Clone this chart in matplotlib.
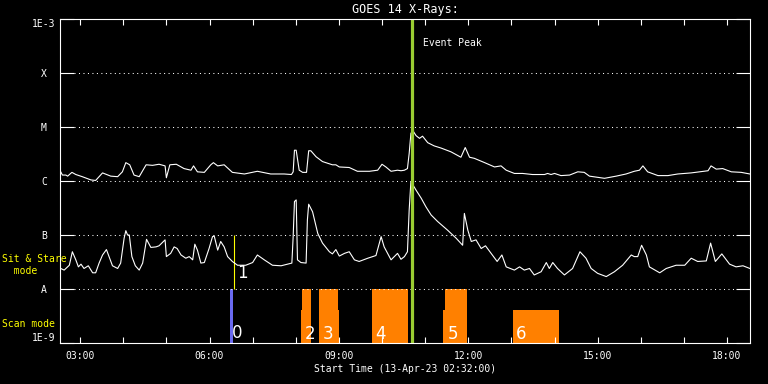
import numpy as np
import matplotlib
matplotlib.use('Agg')
import matplotlib.pyplot as plt

# GOES 14 X-ray fluxes, 13-Apr-23, time in decimal hours UT, flux as log10(W/m^2)
long_t = [2.53, 2.59, 2.67, 2.71, 2.81, 2.90, 3.05, 3.25, 3.36, 3.52, 3.71, 3.87, 3.98, 4.06,
          4.15, 4.25, 4.37, 4.53, 4.68, 4.83, 4.97, 5.00, 5.08, 5.23, 5.41, 5.57, 5.63, 5.72,
          5.88, 6.03, 6.09, 6.19, 6.34, 6.53, 6.81, 7.11, 7.42, 7.73, 7.90, 7.94, 7.97, 8.01,
          8.08, 8.16, 8.25, 8.30, 8.35, 8.47, 8.62, 8.85, 8.93, 9.01, 9.24, 9.43, 9.71, 9.90,
          10.00, 10.09, 10.21, 10.36, 10.44, 10.52, 10.59, 10.63, 10.67, 10.71, 10.79, 10.87,
          10.94, 11.06, 11.21, 11.37, 11.60, 11.83, 11.93, 12.03, 12.14, 12.38, 12.61, 12.76,
          12.88, 13.07, 13.26, 13.49, 13.77, 13.84, 13.92, 14.00, 14.15, 14.35, 14.54, 14.69,
          14.81, 15.16, 15.43, 15.66, 15.85, 15.97, 16.05, 16.16, 16.40, 16.63, 16.86, 17.17,
          17.56, 17.63, 17.75, 17.90, 18.10, 18.33, 18.53]
long_log = [-5.80, -5.89, -5.89, -5.91, -5.84, -5.88, -5.92, -5.98, -5.99, -5.85, -5.91, -5.92,
            -5.83, -5.66, -5.70, -5.89, -5.92, -5.70, -5.71, -5.69, -5.72, -5.94, -5.70, -5.69,
            -5.77, -5.80, -5.72, -5.83, -5.84, -5.70, -5.66, -5.72, -5.70, -5.84, -5.87, -5.82,
            -5.87, -5.87, -5.88, -5.83, -5.43, -5.43, -5.80, -5.84, -5.84, -5.44, -5.44, -5.55,
            -5.64, -5.70, -5.70, -5.74, -5.75, -5.82, -5.82, -5.80, -5.69, -5.74, -5.82, -5.80,
            -5.81, -5.80, -5.77, -5.49, -5.12, -5.06, -5.16, -5.21, -5.17, -5.29, -5.35, -5.39,
            -5.46, -5.56, -5.38, -5.56, -5.58, -5.66, -5.74, -5.72, -5.80, -5.86, -5.86, -5.88,
            -5.88, -5.86, -5.88, -5.86, -5.90, -5.89, -5.83, -5.84, -5.91, -5.95, -5.91, -5.87,
            -5.82, -5.80, -5.72, -5.83, -5.90, -5.90, -5.87, -5.85, -5.81, -5.72, -5.78, -5.77,
            -5.83, -5.84, -5.87]

short_t = [2.55, 2.63, 2.75, 2.82, 2.90, 2.96, 3.02, 3.09, 3.19, 3.29, 3.36, 3.44, 3.52, 3.61,
           3.67, 3.75, 3.87, 3.94, 4.02, 4.06, 4.10, 4.14, 4.20, 4.28, 4.37, 4.45, 4.54, 4.64,
           4.76, 4.83, 4.97, 5.00, 5.10, 5.18, 5.25, 5.34, 5.45, 5.53, 5.61, 5.66, 5.72, 5.80,
           5.88, 5.99, 6.07, 6.11, 6.19, 6.26, 6.34, 6.42, 6.53, 6.65, 6.84, 7.00, 7.11, 7.27,
           7.46, 7.66, 7.81, 7.91, 7.94, 7.97, 8.01, 8.04, 8.12, 8.24, 8.27, 8.30, 8.39, 8.51,
           8.62, 8.78, 8.85, 8.93, 9.01, 9.13, 9.24, 9.36, 9.47, 9.67, 9.86, 9.98, 10.05, 10.21,
           10.36, 10.44, 10.52, 10.59, 10.63, 10.67, 10.79, 10.91, 11.02, 11.14, 11.29, 11.52,
           11.72, 11.87, 11.91, 11.99, 12.07, 12.18, 12.30, 12.40, 12.53, 12.67, 12.78, 12.88,
           13.07, 13.19, 13.30, 13.42, 13.53, 13.69, 13.81, 13.88, 13.96, 14.07, 14.23, 14.42,
           14.59, 14.73, 14.85, 15.00, 15.20, 15.39, 15.58, 15.78, 15.85, 15.93, 16.02, 16.13,
           16.20, 16.44, 16.59, 16.82, 17.02, 17.17, 17.32, 17.52, 17.62, 17.73, 17.88, 18.06,
           18.21, 18.37, 18.53]
short_log = [-7.62, -7.65, -7.56, -7.31, -7.46, -7.59, -7.54, -7.62, -7.57, -7.70, -7.70, -7.52,
             -7.37, -7.27, -7.40, -7.57, -7.62, -7.52, -7.06, -6.92, -7.00, -7.00, -7.40, -7.57,
             -7.65, -7.52, -7.08, -7.23, -7.22, -7.20, -7.09, -7.40, -7.34, -7.22, -7.25, -7.37,
             -7.43, -7.40, -7.46, -7.17, -7.28, -7.52, -7.51, -7.25, -7.03, -7.02, -7.28, -7.12,
             -7.22, -7.40, -7.49, -7.56, -7.56, -7.51, -7.37, -7.46, -7.56, -7.57, -7.54, -7.52,
             -7.03, -6.38, -6.35, -7.46, -7.51, -7.52, -6.72, -6.43, -6.57, -6.97, -7.15, -7.31,
             -7.35, -7.27, -7.39, -7.34, -7.31, -7.46, -7.49, -7.43, -7.38, -7.03, -7.22, -7.46,
             -7.34, -7.45, -7.40, -7.31, -6.54, -6.01, -6.17, -6.32, -6.48, -6.63, -6.75, -6.91,
             -7.06, -7.19, -6.60, -6.91, -7.12, -7.09, -7.25, -7.20, -7.34, -7.49, -7.37, -7.59,
             -7.65, -7.59, -7.65, -7.62, -7.74, -7.68, -7.51, -7.62, -7.51, -7.62, -7.74, -7.62,
             -7.31, -7.43, -7.62, -7.71, -7.77, -7.68, -7.56, -7.37, -7.40, -7.40, -7.19, -7.37,
             -7.59, -7.70, -7.62, -7.56, -7.56, -7.43, -7.49, -7.48, -7.15, -7.49, -7.35, -7.54,
             -7.59, -7.57, -7.62]

t_start, t_end = 2 + 32 / 60, 18 + 32 / 60
peak_time = 10.70

# scan mode rasters (hours) and bar heights
scan_labels = ['2', '3', '4', '5']
scan_start = [8.15, 8.55, 9.77, 11.45]
scan_end = [8.36, 8.99, 10.61, 11.96]
scan_low_start = [8.13, 8.55, 9.77, 11.42, 13.04]
scan_low_end = [8.36, 9.01, 10.61, 11.96, 14.11]
scan_low_top = 4.1e-9
scan6_label = '6'
raster0 = (6.48, 6.55)
sitstare1 = 6.557

ytick_vals = [1e-9, 1e-8, 1e-7, 1e-6, 1e-5, 1e-4, 1e-3]
ytick_text = ['1E-9', 'A', 'B', 'C', 'M', 'X', '1E-3']
xtick_hours = [3, 6, 9, 12, 15, 18]

mono = 'DejaVu Sans Mono'
fig = plt.figure(figsize=(7.68, 3.84), dpi=100, facecolor='black')
ax = fig.add_axes([60 / 768, 41 / 384, 690 / 768, 324 / 384], facecolor='black')
ax.set_yscale('log')
ax.set_ylim(1e-9, 1e-3)
ax.set_xlim(t_start, t_end)

orange = '#ff8000'
for s, e in zip(scan_start, scan_end):
    ax.fill_between([s, e], 1e-9, 1e-8, color=orange, lw=0)
for s, e in zip(scan_low_start, scan_low_end):
    ax.fill_between([s, e], 1e-9, scan_low_top, color=orange, lw=0)
ax.fill_between(list(raster0), 1e-9, 1e-8, color='#6a6af0', lw=0)
ax.vlines(sitstare1, 1e-8, 1e-7, color='yellow', lw=0.8)

for y in ytick_vals[1:-1]:
    ax.axhline(y, xmin=0.021, xmax=0.979, color='white', lw=0.75, dashes=(1, 3.3))

ax.plot(long_t, 10 ** np.array(long_log), color='white', lw=0.8)
ax.plot(short_t, 10 ** np.array(short_log), color='white', lw=0.8)
ax.axvline(peak_time, color='#9acd32', lw=2.3)

num_font = dict(color='white', fontsize=12, family='DejaVu Sans', va='baseline')
ax.annotate('0', (raster0[0], 1e-9), xytext=(1, 3.5), textcoords='offset points', **num_font)
ax.annotate('1', (sitstare1, 1e-8), xytext=(2.5, 8), textcoords='offset points', **num_font)
for lab, s in zip(scan_labels, scan_start):
    ax.annotate(lab, (s, 1e-9), xytext=(2, 3), textcoords='offset points', **num_font)
ax.annotate(scan6_label, (scan_low_start[-1], 1e-9), xytext=(2, 3),
            textcoords='offset points', **num_font)
ax.annotate('Event Peak', (peak_time, 1e-3), xytext=(7.5, -17), textcoords='offset points',
            color='white', fontsize=7, family=mono, va='center')

# axes styling
for sp in ax.spines.values():
    sp.set_color('white')
    sp.set_linewidth(0.8)
ax.set_yticks(ytick_vals)
ax.set_yticklabels(ytick_text)
ax.yaxis.set_minor_locator(matplotlib.ticker.NullLocator())
ax.tick_params(axis='y', which='major', direction='in', length=10, width=0.8, color='white',
               right=True, labelcolor='white', labelsize=7, pad=11.5)
for lab in ax.get_yticklabels():
    lab.set_family(mono)
    lab.set_horizontalalignment('center')
ax.get_yticklabels()[0].set_verticalalignment('bottom')
ax.get_yticklabels()[-1].set_verticalalignment('top')

ax.set_xticks(xtick_hours)
ax.set_xticklabels(['%02d:00' % h for h in xtick_hours], family=mono)
ax.set_xticks(range(3, 19), minor=True)
ax.tick_params(axis='x', which='both', direction='in', length=4.5, width=0.8, color='white',
               top=True, labelcolor='white', labelsize=7, pad=5.5)

fig.text(405 / 768, 1 - 9 / 384, 'GOES 14 X-Rays:', color='white', fontsize=8.5, family=mono,
         ha='center', va='center')
fig.text(405 / 768, 1 - 369 / 384, 'Start Time (13-Apr-23 02:32:00)', color='white', fontsize=7,
         family=mono, ha='center', va='center')
fig.text(2 / 768, 1 - 265 / 384, 'Sit & Stare\n  mode', color='yellow', fontsize=7, family=mono,
         ha='left', va='center', linespacing=1.15)
fig.text(2 / 768, 1 - 324 / 384, 'Scan mode', color='yellow', fontsize=7, family=mono,
         ha='left', va='center')

fig.savefig('out.png', dpi=100, facecolor='black')
